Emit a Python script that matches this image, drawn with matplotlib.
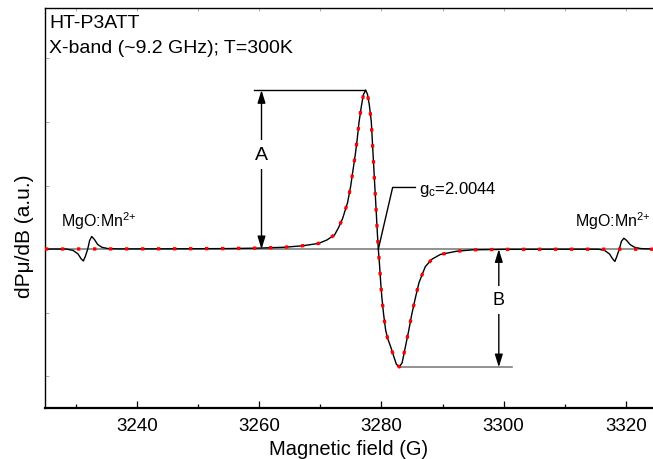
import numpy as np
import matplotlib
matplotlib.use("Agg")
import matplotlib.pyplot as plt
from matplotlib.ticker import MultipleLocator, NullFormatter

plt.rcParams['font.family'] = ['Liberation Sans', 'DejaVu Sans']
plt.rcParams['mathtext.fontset'] = 'custom'
plt.rcParams['mathtext.rm'] = 'Liberation Sans'
plt.rcParams['mathtext.it'] = 'Liberation Sans:italic'

# ---------------- data ----------------
# main resonance, fit curve (red dotted) over the whole field range
fit_field = [3225, 3240, 3250, 3255, 3260, 3264, 3267.0, 3269.7, 3271.1, 3272.35,
             3273.0, 3273.66, 3274.48, 3274.97, 3275.36, 3275.74, 3276.06, 3276.34,
             3276.72, 3277.07, 3277.42, 3277.72, 3278.03, 3278.35, 3278.49, 3278.64,
             3278.78, 3278.92, 3279.07, 3279.21, 3279.35, 3279.50, 3279.71, 3279.88,
             3280.09, 3280.37, 3280.70, 3281.02, 3281.51, 3282.00, 3282.45, 3282.94,
             3283.40, 3283.92, 3284.46, 3284.95, 3285.51, 3286.16, 3287.19, 3288.3,
             3289.65, 3292.27, 3294.9, 3300, 3310, 3325]
fit_value = [0.001, 0.002, 0.003, 0.004, 0.007, 0.012, 0.021, 0.036, 0.058, 0.090,
             0.136, 0.193, 0.294, 0.394, 0.497, 0.596, 0.696, 0.797,
             0.897, 0.972, 1.000, 0.975, 0.906, 0.803, 0.703, 0.597,
             0.499, 0.398, 0.297, 0.197, 0.096, 0.000, -0.105, -0.206,
             -0.308, -0.411, -0.509, -0.560, -0.612, -0.671, -0.723, -0.740,
             -0.713, -0.614, -0.514, -0.413, -0.314, -0.209, -0.109, -0.062,
             -0.033, -0.013, -0.004, -0.001, 0.000, 0.000]

# MgO:Mn2+ reference lines (experimental curve only)
mn_left_field = [3225, 3228.5, 3229.6, 3230.4, 3230.9, 3231.27, 3231.6, 3231.98,
                 3232.3, 3232.64, 3233.1, 3233.6, 3234.3, 3235.3, 3237.0]
mn_left_value = [0.001, 0.001, -0.008, -0.030, -0.060, -0.074, -0.045, 0.000,
                 0.055, 0.080, 0.060, 0.030, 0.012, 0.004, 0.002]
mn_right_field = [3315.5, 3316.5, 3317.3, 3317.8, 3318.18, 3318.5, 3318.9,
                  3319.25, 3319.65, 3320.1, 3320.7, 3321.4, 3322.4, 3325]
mn_right_value = [0.000, -0.008, -0.030, -0.060, -0.077, -0.045, 0.000,
                  0.050, 0.069, 0.055, 0.028, 0.012, 0.004, 0.000]

x_ticks = [3240, 3260, 3280, 3300, 3320]

# experimental curve = Mn line + main line + Mn line
fit_field_a = np.array(fit_field)
fit_value_a = np.array(fit_value)
mid = (fit_field_a > 3237.5) & (fit_field_a < 3315)
exp_field = np.concatenate([mn_left_field, fit_field_a[mid], mn_right_field])
exp_value = np.concatenate([mn_left_value, fit_value_a[mid], mn_right_value])

# ---------------- figure ----------------
W, H = 653, 460
fig = plt.figure(figsize=(W / 100, H / 100), dpi=100)
ax_l, ax_r, ax_t, ax_b = 45, 656.6, 9, 409.3
ax = fig.add_axes([ax_l / W, 1 - ax_b / H, (ax_r - ax_l) / W, (ax_b - ax_t) / H])
ax.set_xlim(3225, 3325)
ax.set_ylim(-1.0, 1.516)

ax.axhline(0, color='#7f7f7f', lw=1.2, zorder=1)
ax.plot(exp_field, exp_value, color='black', lw=1.0, zorder=2)
ax.plot(fit_field, fit_value, color='red', lw=2.4, linestyle=(0, (1.0, 3.8)),
        zorder=3)

# A annotation
ax.plot([3259.1, 3277.4], [1.0, 1.0], color='black', lw=1.0, zorder=2)
ax.annotate('', xy=(3260.4, 1.0), xytext=(3260.4, 0.0),
            arrowprops=dict(arrowstyle='<|-|>,head_length=0.55,head_width=0.17',
                            color='black', lw=1.0, mutation_scale=14,
                            shrinkA=0, shrinkB=0), zorder=4)
ax.text(3260.4, 0.597, 'A', fontsize=14, ha='center', va='center', zorder=5,
        bbox=dict(boxstyle='square,pad=0.3', fc='white', ec='none'))

# B annotation
ax.plot([3282.9, 3301.3], [-0.742, -0.742], color='#7f7f7f', lw=1.2, zorder=2)
ax.annotate('', xy=(3299.2, 0.0), xytext=(3299.2, -0.742),
            arrowprops=dict(arrowstyle='<|-|>,head_length=0.55,head_width=0.17',
                            color='black', lw=1.0, mutation_scale=14,
                            shrinkA=0, shrinkB=0), zorder=4)
ax.text(3299.2, -0.319, 'B', fontsize=13, ha='center', va='center', zorder=5,
        bbox=dict(boxstyle='square,pad=0.3', fc='white', ec='none'))

# g_c leader
ax.plot([3279.5, 3281.84, 3285.56], [0.0, 0.388, 0.388], color='black', lw=1.0,
        zorder=4)


def fpx(x, y):
    return x / W, 1 - y / H


fig.text(*fpx(419.3, 194), r'g$_\mathregular{c}$=2.0044', fontsize=12,
         ha='left', va='baseline')
fig.text(*fpx(61, 226.7), r'MgO:Mn$^{2{+}}$', fontsize=11.5, ha='left',
         va='baseline')
fig.text(*fpx(575, 226.7), r'MgO:Mn$^{2{+}}$', fontsize=11.5, ha='left',
         va='baseline')
fig.text(*fpx(49, 28.3), 'HT-P3ATT', fontsize=14, ha='left', va='baseline')
fig.text(*fpx(49, 53.3), 'X-band (~9.2 GHz); T=300K', fontsize=14, ha='left',
         va='baseline')
fig.text(*fpx(348.5, 455), 'Magnetic field (G)', fontsize=14.5, ha='center',
         va='baseline')
fig.text(*fpx(24, 236), 'dPμ/dB (a.u.)', fontsize=15, ha='center', va='center',
         rotation=90)

# axes styling
for s in ['left', 'top', 'right']:
    ax.spines[s].set_linewidth(1.0)
ax.spines['bottom'].set_linewidth(1.6)

ax.set_xticks(x_ticks)
ax.xaxis.set_minor_locator(MultipleLocator(10))
ax.tick_params(axis='x', which='major', direction='in', length=5, width=0.9,
               labelsize=13.5, pad=6)
ax.tick_params(axis='x', which='minor', direction='in', length=3, width=0.9)
ax.yaxis.set_major_locator(MultipleLocator(0.4))
ax.yaxis.set_major_formatter(NullFormatter())
ax.tick_params(axis='y', which='major', direction='in', length=3, width=0.7,
               color='#aaaaaa')

sec = ax.secondary_xaxis('top')
sec.set_xticks(x_ticks)
sec.xaxis.set_minor_locator(MultipleLocator(10))
sec.tick_params(axis='x', which='both', direction='in', length=2, width=0.7,
                color='#aaaaaa', labeltop=False)
sec.spines['top'].set_visible(False)

fig.savefig('out.png', dpi=100)
